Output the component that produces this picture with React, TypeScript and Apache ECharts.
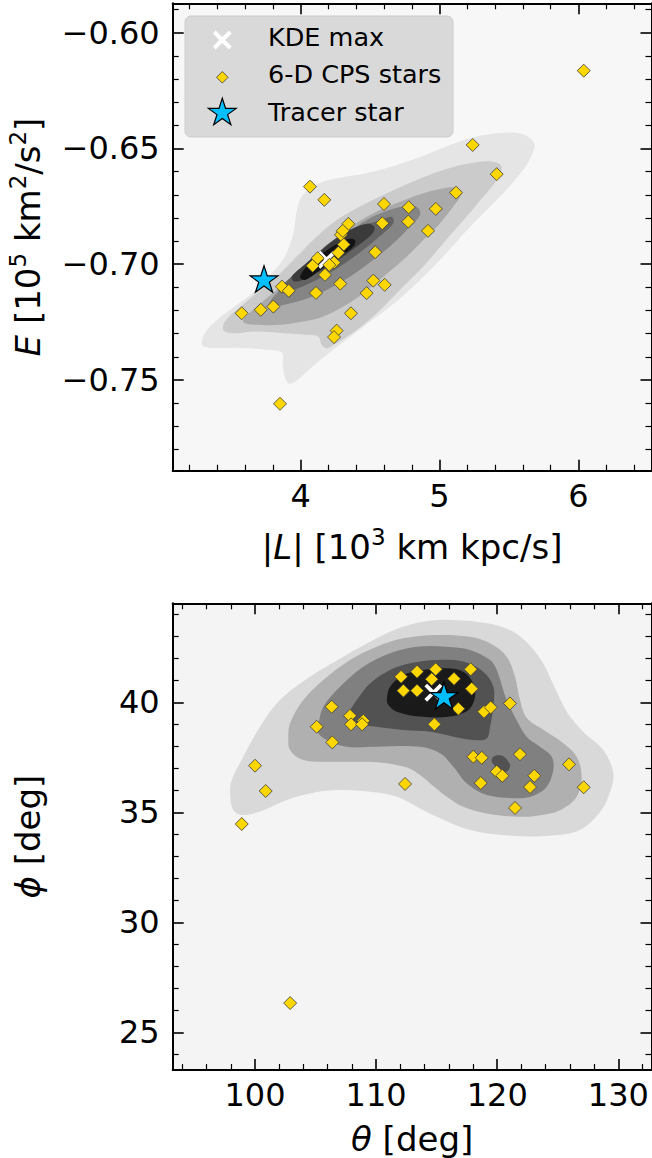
import React, { useEffect, useRef } from "react";
import * as echarts from "echarts";

// ---------------- Top panel: |L| [10^3 km kpc/s] vs E [10^5 km^2/s^2] ----------------
const TOP_STARS_L = [6.039, 5.239, 5.412, 4.067, 4.17, 5.119, 4.6, 4.778, 4.973, 4.588, 4.775, 4.917, 4.343, 4.29, 4.303, 4.31, 4.271, 4.537, 4.122, 4.086, 4.24, 4.206, 4.175, 4.285, 4.11, 3.865, 3.914, 4.523, 4.605, 4.475, 4.362, 3.803, 3.712, 3.575, 4.259, 4.24, 3.851];
const TOP_STARS_E = [-0.6164, -0.6485, -0.6611, -0.6665, -0.6722, -0.6691, -0.674, -0.6754, -0.6761, -0.6823, -0.6816, -0.6856, -0.6826, -0.6873, -0.6856, -0.6915, -0.695, -0.6948, -0.6974, -0.7007, -0.6993, -0.7003, -0.7046, -0.7084, -0.7124, -0.7097, -0.7115, -0.7071, -0.7089, -0.7125, -0.7212, -0.7183, -0.7197, -0.7212, -0.7287, -0.7315, -0.7603];
const TOP_TRACER = [3.736, -0.7064];
const TOP_KDE_MAX = [4.187, -0.6981];

const TOP_X_MIN = 3.078;
const TOP_X_MAX = 6.527;
const TOP_Y_MIN = -0.7892;
const TOP_Y_MAX = -0.5873;
const TOP_X_TICKS = [4, 5, 6];
const TOP_Y_TICKS = [-0.75, -0.7, -0.65, -0.6];
const TOP_X_MINOR_STEP = 0.2;
const TOP_Y_MINOR_STEP = 0.01;

// KDE filled-contour outlines (outer to inner)
const TOP_KDE_1 = [[3.289, -0.7349], [3.311, -0.7297], [3.383, -0.7249], [3.491, -0.7197], [3.635, -0.7133], [3.743, -0.7068], [3.872, -0.6981], [3.945, -0.6873], [3.973, -0.6765], [4.017, -0.67], [4.139, -0.6649], [4.283, -0.6627], [4.478, -0.6606], [4.694, -0.6571], [4.896, -0.6528], [5.075, -0.6485], [5.255, -0.645], [5.436, -0.6433], [5.594, -0.6437], [5.681, -0.6476], [5.674, -0.6515], [5.602, -0.6593], [5.414, -0.6722], [5.219, -0.6839], [5.025, -0.6968], [4.838, -0.7081], [4.643, -0.7184], [4.449, -0.7271], [4.262, -0.7357], [4.117, -0.7426], [3.995, -0.7491], [3.923, -0.7517], [3.887, -0.7491], [3.872, -0.7435], [3.865, -0.7383], [3.757, -0.737], [3.541, -0.7361], [3.347, -0.7361]];
const TOP_KDE_2 = [[3.442, -0.7284], [3.455, -0.7248], [3.539, -0.7197], [3.683, -0.7125], [3.827, -0.7054], [3.971, -0.6967], [4.115, -0.6881], [4.259, -0.6809], [4.427, -0.6751], [4.62, -0.6693], [4.836, -0.6636], [5.027, -0.6593], [5.22, -0.6564], [5.388, -0.6557], [5.448, -0.6579], [5.412, -0.6636], [5.316, -0.6708], [5.196, -0.6794], [5.027, -0.6909], [4.883, -0.701], [4.715, -0.7111], [4.548, -0.7212], [4.403, -0.7284], [4.259, -0.7341], [4.187, -0.7363], [4.151, -0.7348], [4.127, -0.7313], [4.043, -0.7305], [3.875, -0.7298], [3.683, -0.7291], [3.514, -0.7298]];
const TOP_KDE_3 = [[3.586, -0.724], [3.683, -0.7183], [3.827, -0.7111], [3.995, -0.7025], [4.163, -0.6938], [4.331, -0.6852], [4.523, -0.678], [4.715, -0.673], [4.883, -0.6693], [5.076, -0.6668], [5.135, -0.6672], [5.16, -0.6693], [5.099, -0.6751], [5.004, -0.6823], [4.883, -0.6895], [4.739, -0.6981], [4.595, -0.7054], [4.451, -0.7125], [4.307, -0.7183], [4.163, -0.7226], [4.019, -0.7248], [3.851, -0.7262], [3.683, -0.7262], [3.599, -0.7255]];
const TOP_KDE_4 = [[3.767, -0.7176], [3.827, -0.7125], [3.971, -0.7054], [4.139, -0.6967], [4.307, -0.6881], [4.476, -0.6809], [4.643, -0.6765], [4.787, -0.6748], [4.847, -0.6758], [4.859, -0.6787], [4.787, -0.6838], [4.667, -0.6909], [4.523, -0.6981], [4.355, -0.7054], [4.187, -0.7111], [4.019, -0.7154], [3.875, -0.7176], [3.791, -0.7183]];
const TOP_KDE_5 = [[3.839, -0.7111], [3.923, -0.706], [4.067, -0.6981], [4.235, -0.6895], [4.403, -0.6838], [4.548, -0.6816], [4.656, -0.6795], [4.667, -0.6823], [4.595, -0.6866], [4.451, -0.6938], [4.283, -0.701], [4.115, -0.7068], [3.947, -0.7111], [3.863, -0.7125]];
const TOP_KDE_6 = [[3.935, -0.7054], [4.043, -0.6996], [4.211, -0.6909], [4.355, -0.6852], [4.476, -0.6826], [4.53, -0.6838], [4.519, -0.6866], [4.403, -0.6924], [4.235, -0.6996], [4.067, -0.7054], [3.959, -0.7075]];
const TOP_KDE_7 = [[3.995, -0.7054], [4.067, -0.6996], [4.211, -0.6931], [4.331, -0.6892], [4.391, -0.6895], [4.379, -0.6924], [4.283, -0.6967], [4.139, -0.7025], [4.031, -0.7068]];
const TOP_KDE_LEVELS = [TOP_KDE_1, TOP_KDE_2, TOP_KDE_3, TOP_KDE_4, TOP_KDE_5, TOP_KDE_6, TOP_KDE_7];
const TOP_KDE_COLORS = ["#e5e5e5", "#cbcbcb", "#aaaaaa", "#858585", "#636363", "#3b3b3b", "#131313"];

// ---------------- Bottom panel: theta [deg] vs phi [deg] ----------------
const BOT_STARS_THETA = [112.06, 113.38, 114.92, 116.43, 117.81, 114.59, 112.25, 113.38, 117.89, 116.79, 118.91, 119.46, 121.05, 114.81, 106.33, 107.84, 107.93, 108.94, 108.84, 105.09, 106.38, 118.03, 118.72, 121.88, 119.96, 120.42, 123.06, 122.71, 118.64, 121.47, 125.93, 127.14, 112.39, 100.0, 100.88, 98.9, 102.9];
const BOT_STARS_PHI = [41.16, 41.39, 41.5, 41.07, 41.5, 41.05, 40.53, 40.53, 40.62, 39.71, 39.57, 39.77, 39.95, 39.0, 39.8, 39.39, 39.0, 39.16, 39.0, 38.89, 38.18, 37.53, 37.48, 37.64, 36.85, 36.66, 36.66, 36.15, 36.33, 35.2, 37.18, 36.14, 36.29, 37.12, 35.97, 34.47, 26.33];
const BOT_TRACER = [115.6, 40.3];
const BOT_KDE_MAX = [114.73, 40.44];

const BOT_X_MIN = 93.2;
const BOT_X_MAX = 132.74;
const BOT_Y_MIN = 23.29;
const BOT_Y_MAX = 44.5;
const BOT_X_TICKS = [100, 110, 120, 130];
const BOT_Y_TICKS = [25, 30, 35, 40];
const BOT_X_MINOR_STEP = 2;
const BOT_Y_MINOR_STEP = 1;

const BOT_KDE_1 = [[97.94, 35.86], [98.08, 36.47], [99.03, 37.53], [100.41, 38.89], [102.06, 40.1], [104.54, 41.16], [107.29, 42.07], [110.05, 42.91], [112.25, 43.44], [114.45, 43.71], [116.38, 43.74], [119.13, 43.59], [121.0, 43.3], [122.24, 42.83], [123.62, 41.92], [124.72, 40.71], [125.82, 39.5], [127.2, 38.6], [128.76, 37.83], [129.59, 36.77], [129.3, 35.9], [128.6, 35.1], [126.84, 34.2], [124.5, 33.95], [121.61, 33.92], [117.75, 34.2], [115.0, 34.8], [113.63, 35.18], [111.7, 35.71], [109.5, 35.94], [106.75, 36.01], [104.54, 35.86], [102.62, 35.56], [100.69, 35.1], [99.03, 34.88], [98.21, 35.1]];
const BOT_KDE_2 = [[102.75, 38.44], [102.89, 39.05], [103.99, 40.1], [105.64, 41.01], [107.84, 41.92], [110.05, 42.53], [112.25, 42.91], [115.0, 43.06], [117.75, 42.98], [119.41, 42.68], [120.78, 42.07], [121.47, 41.16], [121.88, 40.1], [122.43, 39.3], [123.81, 38.75], [125.46, 38.14], [126.56, 37.53], [126.97, 36.62], [126.56, 35.71], [125.19, 35.1], [123.3, 34.85], [121.61, 34.8], [119.13, 34.95], [117.2, 35.25], [115.83, 35.71], [114.72, 36.2], [113.63, 36.7], [112.5, 37.05], [110.05, 37.28], [106.75, 37.3], [103.99, 37.38], [102.89, 37.83]];
const BOT_KDE_3 = [[105.23, 38.97], [105.64, 39.8], [107.02, 40.71], [108.94, 41.62], [111.15, 42.23], [113.35, 42.53], [115.83, 42.53], [117.75, 42.38], [119.41, 41.92], [119.96, 41.47], [120.78, 40.1], [121.6, 39.2], [122.43, 38.44], [123.53, 37.98], [124.5, 37.53], [124.63, 36.92], [124.09, 36.16], [123.0, 35.75], [121.88, 35.64], [119.13, 35.79], [117.48, 36.32], [116.38, 37.07], [115.28, 37.68], [113.63, 37.98], [110.05, 37.98], [107.57, 37.98], [105.92, 38.29], [105.23, 38.59]];
const BOT_KDE_4 = [[107.84, 39.5], [108.4, 40.1], [109.5, 40.86], [111.15, 41.47], [112.8, 41.77], [115.0, 41.92], [117.2, 41.85], [118.85, 41.39], [119.68, 40.71], [119.68, 39.8], [119.41, 38.89], [119.13, 38.36], [118.03, 38.29], [116.38, 38.44], [114.45, 38.66], [112.25, 38.74], [110.05, 38.89], [108.4, 39.05]];
const BOT_KDE_4B = [[120.09, 37.6], [120.6, 37.52], [121.06, 37.15], [120.9, 36.9], [120.64, 36.85], [120.1, 36.98], [119.55, 37.3], [119.65, 37.52]];
const BOT_KDE_5 = [[110.88, 40.1], [111.15, 40.71], [112.25, 41.24], [113.9, 41.47], [115.83, 41.55], [117.2, 41.39], [118.03, 40.86], [118.17, 40.25], [117.62, 39.65], [116.1, 39.35], [113.63, 39.35], [111.7, 39.57], [111.01, 39.88]];
const BOT_KDE_LEVELS = [BOT_KDE_1, BOT_KDE_2, BOT_KDE_3, BOT_KDE_4, BOT_KDE_4B, BOT_KDE_5];
const BOT_KDE_COLORS = ["#d9d9d9", "#b0b0b0", "#808080", "#525252", "#525252", "#1a1a1a"];

const LEGEND_LABELS = ["KDE max", "6-D CPS stars", "Tracer star"];

// ---------------- helpers ----------------
const FONT = "DejaVu Sans";

function minorValues(min: number, max: number, step: number, majorStep: number) {
  const out: number[] = [];
  const k0 = Math.ceil(min / step - 1e-9);
  const k1 = Math.floor(max / step + 1e-9);
  for (let k = k0; k <= k1; k++) {
    const v = +(k * step).toFixed(6);
    const r = v / majorStep;
    if (Math.abs(r - Math.round(r)) < 1e-6) continue;
    out.push(v);
  }
  return out;
}

const STAR_PATH = (() => {
  let d = "";
  for (let k = 0; k < 10; k++) {
    const a = ((-90 + 36 * k) * Math.PI) / 180;
    const r = k % 2 === 0 ? 50 : 19.1;
    d += (k ? "L" : "M") + (50 + r * Math.cos(a)).toFixed(2) + "," + (50 + r * Math.sin(a)).toFixed(2);
  }
  return "path://" + d + "Z";
})();
const X_PATH = "path://M0,3L3,0L10,7L17,0L20,3L13,10L20,17L17,20L10,13L3,20L0,17L7,10Z";

function starPoints(cx: number, cy: number, R: number) {
  const pts: number[][] = [];
  for (let k = 0; k < 10; k++) {
    const a = ((-90 + 36 * k) * Math.PI) / 180;
    const r = k % 2 === 0 ? R : R * 0.382;
    pts.push([cx + r * Math.cos(a), cy + r * Math.sin(a)]);
  }
  return pts;
}

const nameRich = {
  n: { fontSize: 34, fontFamily: FONT, color: "#000", lineHeight: 42, verticalAlign: "middle" },
  i: { fontSize: 34, fontFamily: FONT, fontStyle: "italic", color: "#000", lineHeight: 42, verticalAlign: "middle" },
  s: { fontSize: 23, fontFamily: FONT, color: "#000", lineHeight: 24, verticalAlign: "top" },
};

function majorAxis(gridIndex: number, position: string, min: number, max: number, majors: number[], opt: any = {}) {
  const isY = position === "left" || position === "right";
  const ax: any = {
    type: "value",
    gridIndex,
    position,
    min,
    max,
    axisLine: { show: true, onZero: false, lineStyle: { color: "#000", width: 2 } },
    axisTick: { show: true, inside: true, length: 11, lineStyle: { color: "#000", width: 1.6 }, customValues: majors },
    axisLabel: opt.labels
      ? { show: true, customValues: majors, margin: isY ? 13 : 9, fontSize: 32, fontFamily: FONT, color: "#000", formatter: opt.fmt }
      : { show: false },
    splitLine: { show: false },
    z: 10,
  };
  if (opt.name) {
    ax.name = opt.name;
    ax.nameLocation = "middle";
    ax.nameGap = opt.nameGap;
    ax.nameRotate = isY ? 90 : 0;
    ax.nameTextStyle = { fontSize: 34, fontFamily: FONT, color: "#000", lineHeight: 42, rich: nameRich };
  }
  return ax;
}

function minorAxis(gridIndex: number, position: string, min: number, max: number, minors: number[]) {
  return {
    type: "value",
    gridIndex,
    position,
    min,
    max,
    axisLine: { show: false },
    axisTick: { show: true, inside: true, length: 6, lineStyle: { color: "#000", width: 1.2 }, customValues: minors },
    axisLabel: { show: false },
    splitLine: { show: false },
    z: 10,
  };
}

function contourSeries(levels: number[][][], colors: string[], xi: number, yi: number) {
  return {
    type: "custom",
    xAxisIndex: xi,
    yAxisIndex: yi,
    silent: true,
    clip: true,
    z: 1,
    encode: { x: 0, y: 1 },
    data: levels.map((poly, i) => [poly[0][0], poly[0][1], i]),
    renderItem: (params: any, api: any) => {
      const lvl = api.value(2);
      const pts = levels[lvl].map((p) => api.coord(p));
      return { type: "polygon", shape: { points: pts, smooth: 0.35 }, style: { fill: colors[lvl] } };
    },
  };
}

function markerSeries(xi: number, yi: number, xs: number[], ys: number[], tracer: number[], kde: number[]) {
  return [
    {
      type: "scatter",
      name: LEGEND_LABELS[0],
      xAxisIndex: xi,
      yAxisIndex: yi,
      silent: true,
      z: 3,
      symbol: X_PATH,
      symbolSize: 18,
      itemStyle: { color: "#ffffff", opacity: 1 },
      data: [kde],
    },
    {
      type: "scatter",
      name: LEGEND_LABELS[1],
      xAxisIndex: xi,
      yAxisIndex: yi,
      silent: true,
      z: 4,
      symbol: "diamond",
      symbolSize: 13,
      itemStyle: { color: "#FFD700", borderColor: "#3a3a3a", borderWidth: 0.8, opacity: 1 },
      data: xs.map((x, i) => [x, ys[i]]),
    },
    {
      type: "scatter",
      name: LEGEND_LABELS[2],
      xAxisIndex: xi,
      yAxisIndex: yi,
      silent: true,
      z: 5,
      symbol: STAR_PATH,
      symbolSize: [27.7, 26.4],
      itemStyle: { color: "#00BFFF", borderColor: "#000", borderWidth: 1.2, opacity: 1 },
      data: [tracer],
    },
  ];
}

function buildOption() {
  const topGrid = { left: 172.7, top: 3.3, width: 478.8, height: 467.4 };
  const botGrid = { left: 172.7, top: 603.3, width: 478.8, height: 466.7 };
  const fmtE = (v: number) => v.toFixed(2).replace("-", "\u2212");
  const fmtN = (v: number) => String(v);

  const topXMinor = minorValues(TOP_X_MIN, TOP_X_MAX, TOP_X_MINOR_STEP, 1);
  const topYMinor = minorValues(TOP_Y_MIN, TOP_Y_MAX, TOP_Y_MINOR_STEP, 0.05);
  const botXMinor = minorValues(BOT_X_MIN, BOT_X_MAX, BOT_X_MINOR_STEP, 10);
  const botYMinor = minorValues(BOT_Y_MIN, BOT_Y_MAX, BOT_Y_MINOR_STEP, 5);

  const legendX = 222.3;
  const legendRows = [40, 77.3, 112.9];
  const textRows = [36.7, 74, 111.7];

  return {
    animation: false,
    backgroundColor: "#ffffff",
    textStyle: { fontFamily: FONT },
    grid: [
      { ...topGrid, show: true, backgroundColor: "#f7f7f7", borderWidth: 0, outerBoundsMode: "none" },
      { ...topGrid, show: false, outerBoundsMode: "none" },
      { ...botGrid, show: true, backgroundColor: "#f4f4f4", borderWidth: 0, outerBoundsMode: "none" },
      { ...botGrid, show: false, outerBoundsMode: "none" },
    ],
    xAxis: [
      majorAxis(0, "bottom", TOP_X_MIN, TOP_X_MAX, TOP_X_TICKS, {
        labels: true,
        fmt: fmtN,
        name: "{n||}{i|L}{n|| [10}{s|3}{n| km kpc/s]}",
        nameGap: 55,
      }),
      majorAxis(0, "top", TOP_X_MIN, TOP_X_MAX, TOP_X_TICKS),
      minorAxis(1, "bottom", TOP_X_MIN, TOP_X_MAX, topXMinor),
      minorAxis(1, "top", TOP_X_MIN, TOP_X_MAX, topXMinor),
      majorAxis(2, "bottom", BOT_X_MIN, BOT_X_MAX, BOT_X_TICKS, {
        labels: true,
        fmt: fmtN,
        name: "{i|\u03b8}{n| [deg]}",
        nameGap: 48,
      }),
      majorAxis(2, "top", BOT_X_MIN, BOT_X_MAX, BOT_X_TICKS),
      minorAxis(3, "bottom", BOT_X_MIN, BOT_X_MAX, botXMinor),
      minorAxis(3, "top", BOT_X_MIN, BOT_X_MAX, botXMinor),
    ],
    yAxis: [
      majorAxis(0, "left", TOP_Y_MIN, TOP_Y_MAX, TOP_Y_TICKS, {
        labels: true,
        fmt: fmtE,
        name: "{i|E}{n| [10}{s|5}{n| km}{s|2}{n|/s}{s|2}{n|]}",
        nameGap: 124,
      }),
      majorAxis(0, "right", TOP_Y_MIN, TOP_Y_MAX, TOP_Y_TICKS),
      minorAxis(1, "left", TOP_Y_MIN, TOP_Y_MAX, topYMinor),
      minorAxis(1, "right", TOP_Y_MIN, TOP_Y_MAX, topYMinor),
      majorAxis(2, "left", BOT_Y_MIN, BOT_Y_MAX, BOT_Y_TICKS, {
        labels: true,
        fmt: fmtN,
        name: "{i|\u03d5}{n| [deg]}",
        nameGap: 124,
      }),
      majorAxis(2, "right", BOT_Y_MIN, BOT_Y_MAX, BOT_Y_TICKS),
      minorAxis(3, "left", BOT_Y_MIN, BOT_Y_MAX, botYMinor),
      minorAxis(3, "right", BOT_Y_MIN, BOT_Y_MAX, botYMinor),
    ],
    series: [
      contourSeries(TOP_KDE_LEVELS, TOP_KDE_COLORS, 0, 0),
      ...markerSeries(0, 0, TOP_STARS_L, TOP_STARS_E, TOP_TRACER, TOP_KDE_MAX),
      contourSeries(BOT_KDE_LEVELS, BOT_KDE_COLORS, 4, 4),
      ...markerSeries(4, 4, BOT_STARS_THETA, BOT_STARS_PHI, BOT_TRACER, BOT_KDE_MAX),
    ],
    graphic: [
      {
        type: "rect",
        z: 100,
        shape: { x: 185, y: 16, width: 268, height: 121, r: 6 },
        style: { fill: "#d9d9d9", stroke: "#cccccc", lineWidth: 1 },
      },
      {
        type: "line",
        z: 101,
        shape: { x1: legendX - 8, y1: legendRows[0] - 8, x2: legendX + 8, y2: legendRows[0] + 8 },
        style: { stroke: "#ffffff", lineWidth: 4 },
      },
      {
        type: "line",
        z: 101,
        shape: { x1: legendX + 8, y1: legendRows[0] - 8, x2: legendX - 8, y2: legendRows[0] + 8 },
        style: { stroke: "#ffffff", lineWidth: 4 },
      },
      {
        type: "polygon",
        z: 101,
        shape: {
          points: [
            [legendX, legendRows[1] - 5.8],
            [legendX + 5.8, legendRows[1]],
            [legendX, legendRows[1] + 5.8],
            [legendX - 5.8, legendRows[1]],
          ],
        },
        style: { fill: "#FFD700", stroke: "#3a3a3a", lineWidth: 0.8 },
      },
      {
        type: "polygon",
        z: 101,
        shape: { points: starPoints(legendX, legendRows[2], 14.6) },
        style: { fill: "#00BFFF", stroke: "#000000", lineWidth: 1.2 },
      },
      ...LEGEND_LABELS.map((t, i) => ({
        type: "text",
        z: 101,
        x: 268,
        y: textRows[i],
        style: { text: t, fontSize: 25.5, fontFamily: FONT, fill: "#000000", verticalAlign: "middle", align: "left" },
      })),
    ],
  };
}

export default function App() {
  const ref = useRef<HTMLDivElement>(null);
  useEffect(() => {
    if (!ref.current) return;
    const chart = echarts.init(ref.current, undefined, { renderer: "svg", width: 652, height: 1158 });
    chart.setOption(buildOption() as any);
    return () => chart.dispose();
  }, []);
  return (
    <div
      ref={ref}
      style={{ position: "absolute", left: 0, top: 0, width: 652, height: 1158, background: "#ffffff" }}
    />
  );
}
